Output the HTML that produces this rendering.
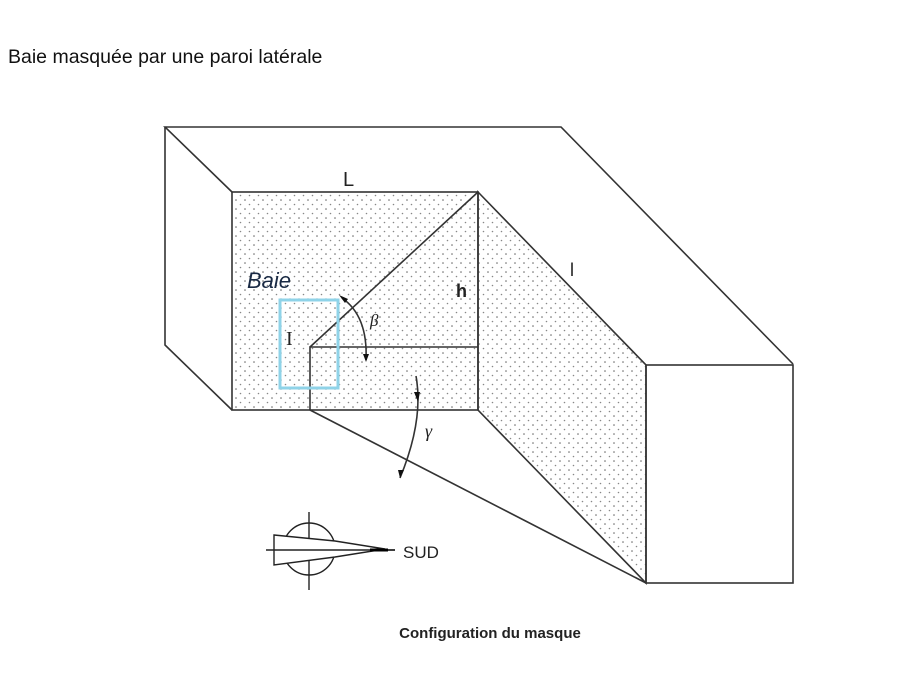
<!DOCTYPE html>
<html><head><meta charset="utf-8"><style>
body{margin:0;background:#fff;width:912px;height:677px;overflow:hidden}
svg{position:absolute;left:0;top:0}
</style></head><body>
<svg width="912" height="677" viewBox="0 0 912 677">
<defs>
<pattern id="dots" width="9" height="9" patternUnits="userSpaceOnUse">
<circle cx="2" cy="2" r="0.8" fill="#666"/>
<circle cx="6.5" cy="6.5" r="0.8" fill="#888"/>
</pattern>
</defs>
<text x="8" y="63" font-family="Liberation Sans, sans-serif" font-size="19.5" fill="#111">Baie masquée par une paroi latérale</text>
<g stroke="#333" stroke-width="1.6" fill="none">
<rect x="232" y="192" width="246" height="218" fill="url(#dots)"/>
<polygon points="478,192 646,365 646,583 478,410" fill="url(#dots)"/>
<polyline points="232,192 165,127 561,127 793,364"/>
<polyline points="165,127 165,345 232,410"/>
<rect x="646" y="365" width="147" height="218"/>
<line x1="310" y1="410" x2="646" y2="583"/>
<polyline points="310,410 310,347 478,347"/>
<line x1="310" y1="347" x2="478" y2="192"/>
<path d="M342,298 Q368,316 366,360"/>
<path d="M416,376 Q424,420 400,478"/>
</g>
<polygon points="339,295 348,299 345,303" fill="#111"/>
<polygon points="363,354 369,354 366,362" fill="#111"/>
<polygon points="414,392 420,392 418,402" fill="#111"/>
<polygon points="398,470 404,470 400,478" fill="#111"/>
<rect x="280" y="300" width="58" height="88" fill="none" stroke="#8fd3e8" stroke-width="3"/>
<g font-family="Liberation Sans, sans-serif" fill="#222">
<text x="343" y="186" font-size="20">L</text>
<text x="456" y="297" font-size="18" font-weight="bold">h</text>
<text x="570" y="276" font-size="18">l</text>
<text x="247" y="288" font-size="22" font-style="italic" fill="#1a2a44">Baie</text>
<text x="286" y="345" font-size="20" font-family="Liberation Serif, serif">I</text>
<text x="370" y="326" font-size="17" font-style="italic" font-family="Liberation Serif, serif">β</text>
<text x="425" y="437" font-size="18" font-style="italic" font-family="Liberation Serif, serif">γ</text>
<text x="403" y="558" font-size="17">SUD</text>
<text x="490" y="638" font-size="15" font-weight="bold" text-anchor="middle">Configuration du masque</text>
</g>
<g stroke="#222" stroke-width="1.4" fill="none">
<circle cx="309" cy="549" r="26"/>
<line x1="309" y1="512" x2="309" y2="590"/>
<line x1="266" y1="550" x2="395" y2="550"/>
<polygon points="274,535 335,541 385,549 335,557 274,565" fill="#fff"/>
<line x1="274" y1="550" x2="395" y2="550"/>
</g>
<line x1="370" y1="550" x2="388" y2="550" stroke="#000" stroke-width="3"/>
</svg>
</body></html>
